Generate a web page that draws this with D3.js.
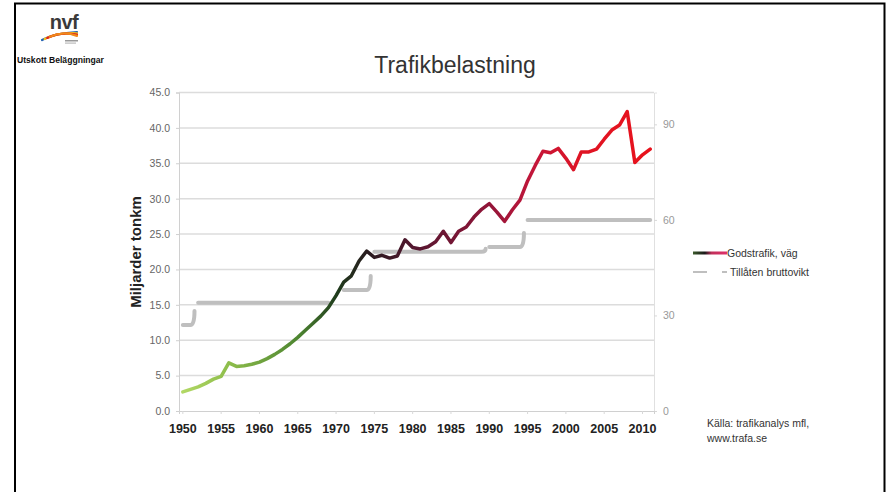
<!DOCTYPE html>
<html>
<head>
<meta charset="utf-8">
<script src="https://cdn.jsdelivr.net/npm/d3@7"></script>
<style>
  html, body { margin: 0; padding: 0; background: #fff; }
  svg { display: block; font-family: "Liberation Sans", Arial, sans-serif; }
</style>
</head>
<body>
<svg id="chart" width="887" height="492"></svg>
<script>
// ---------- data ----------
const years = [1950,1951,1952,1953,1954,1955,1956,1957,1958,1959,
               1960,1961,1962,1963,1964,1965,1966,1967,1968,1969,
               1970,1971,1972,1973,1974,1975,1976,1977,1978,1979,
               1980,1981,1982,1983,1984,1985,1986,1987,1988,1989,
               1990,1991,1992,1993,1994,1995,1996,1997,1998,1999,
               2000,2001,2002,2003,2004,2005,2006,2007,2008,2009,
               2010,2011];
// Godstrafik, väg (miljarder tonkm)
const goods = [2.7,3.05,3.4,3.9,4.5,4.9,6.8,6.3,6.4,6.6,
               6.9,7.4,8.0,8.7,9.5,10.4,11.4,12.4,13.4,14.6,
               16.3,18.2,19.1,21.2,22.6,21.7,22.0,21.6,21.9,24.2,
               23.1,22.9,23.2,23.9,25.4,23.8,25.4,26.0,27.4,28.5,
               29.3,28.1,26.8,28.4,29.8,32.5,34.7,36.7,36.5,37.1,
               35.7,34.1,36.6,36.6,37.0,38.4,39.7,40.4,42.3,35.1,
               36.2,37.0];
// Tillåten bruttovikt (right axis) – levels
const weightStart = [1950, 1952, 1971, 1975, 1990, 1995];
const weightEnd   = [1951, 1969, 1974, 1989, 1994, 2011];
const weightValue = [27, 34, 38, 50, 51.5, 60];

const leftTicks  = [0,5,10,15,20,25,30,35,40,45];
const rightTicks = [0,30,60,90];
const xLabelYears = [1950,1955,1960,1965,1970,1975,1980,1985,1990,1995,2000,2005,2010];

const title = "Trafikbelastning";
const yTitle = "Miljarder tonkm";
const legendLabels = ["Godstrafik, väg", "Tillåten bruttovikt"];
const sourceLines = ["Källa: trafikanalys mfl,", "www.trafa.se"];

// ---------- drawing ----------
const svg = d3.select("#chart");
svg.append("rect").attr("width", 887).attr("height", 492).attr("fill", "#fff");

const xb = d3.scaleBand().domain(years).range([179, 654]).paddingInner(0).paddingOuter(0);
const x = d => xb(d) + xb.bandwidth() / 2;
const y = d3.scaleLinear().domain([0, 45]).range([411, 92.5]);
const y2 = d3.scaleLinear().domain([0, 100]).range([411, 92.5]);

// frame
svg.append("path").attr("d", "M15,500 V3.5 H884.5 V500")
  .attr("fill", "none").attr("stroke", "#000").attr("stroke-width", 2);

// gridlines
svg.append("g").selectAll("line").data(leftTicks.slice(1)).join("line")
  .attr("x1", 179).attr("x2", 654)
  .attr("y1", d => y(d)).attr("y2", d => y(d))
  .attr("stroke", "#dcdcdc").attr("stroke-width", 1.5);

// left axis
const gl = svg.append("g").attr("transform", "translate(179,0)")
  .call(d3.axisLeft(y).tickValues(leftTicks).tickFormat(d3.format(".1f")).tickSize(3).tickPadding(6));
gl.select(".domain").attr("stroke", "#d0d0d0");
gl.selectAll(".tick line").attr("stroke", "#d0d0d0");
gl.selectAll("text").attr("fill", "#666").attr("font-size", 10.5);

// right axis
const gr = svg.append("g").attr("transform", "translate(654,0)")
  .call(d3.axisRight(y2).tickValues(rightTicks).tickSize(3).tickPadding(6));
gr.select(".domain").attr("stroke", "#e0e0e0");
gr.selectAll(".tick line").attr("stroke", "#d8d8d8");
gr.selectAll("text").attr("fill", "#999").attr("font-size", 10.5);

// bottom axis
const gb = svg.append("g").attr("transform", "translate(0,411)")
  .call(d3.axisBottom(xb).tickValues(xLabelYears).tickSize(3).tickPadding(10));
gb.select(".domain").attr("stroke", "#d0d0d0");
gb.selectAll(".tick line").attr("stroke", "#d8d8d8");
gb.selectAll("text").attr("fill", "#222").attr("font-size", 12.5).attr("font-weight", "bold");

// weight series (gray steps)
const gw = svg.append("g");
weightValue.forEach((v, i) => {
  const x0 = x(weightStart[i]), x1 = x(weightEnd[i]), yy = y2(v);
  let d = `M${x0},${yy} H${x1}`;
  if (i < weightValue.length - 1 && weightStart[i + 1] - weightEnd[i] === 1) {
    const step = yy - y2(weightValue[i + 1]);
    const h = Math.min(14, step * 0.65);
    d += ` Q${x1 + 4},${yy} ${x1 + 4},${yy - h}`;
  }
  gw.append("path").attr("d", d).attr("fill", "none")
    .attr("stroke", "#bfbfbf").attr("stroke-width", 4).attr("stroke-linecap", "round");
});

// gradient for goods line
const defs = svg.append("defs");
const grad = defs.append("linearGradient").attr("id", "gGoods")
  .attr("gradientUnits", "userSpaceOnUse")
  .attr("x1", x(years[0])).attr("x2", x(years[years.length - 1])).attr("y1", 0).attr("y2", 0);
[[0, "#b2d865"], [0.1, "#8dbd4b"], [0.25, "#4c8430"], [0.33, "#1f3b1c"],
 [0.4, "#2a1a1f"], [0.5, "#561730"], [0.65, "#8f1538"], [0.75, "#c3163a"],
 [0.85, "#df1424"], [1, "#e8121c"]].forEach(s =>
  grad.append("stop").attr("offset", s[0]).attr("stop-color", s[1]));

const line = d3.line().x((d, i) => x(years[i])).y(d => y(d)).curve(d3.curveLinear);
svg.append("path").datum(goods).attr("d", line)
  .attr("fill", "none").attr("stroke", "url(#gGoods)").attr("stroke-width", 3.5)
  .attr("stroke-linejoin", "round").attr("stroke-linecap", "round");

// y title
svg.append("text").attr("transform", "translate(141,252) rotate(-90)")
  .attr("text-anchor", "middle").attr("font-size", 15).attr("font-weight", "bold")
  .attr("fill", "#222").text(yTitle);

// title
svg.append("text").attr("x", 455).attr("y", 73).attr("text-anchor", "middle")
  .attr("font-size", 23).attr("fill", "#333").text(title);

// legend
const lg = defs.append("linearGradient").attr("id", "gLeg")
  .attr("gradientUnits", "userSpaceOnUse").attr("x1", 693).attr("x2", 727).attr("y1", 0).attr("y2", 0);
[[0, "#3a5a2a"], [0.35, "#1a1a1a"], [0.55, "#c0305a"], [1, "#e0306a"]].forEach(s =>
  lg.append("stop").attr("offset", s[0]).attr("stop-color", s[1]));
svg.append("line").attr("x1", 693).attr("x2", 727).attr("y1", 253).attr("y2", 253)
  .attr("stroke", "url(#gLeg)").attr("stroke-width", 3);
svg.append("text").attr("x", 727).attr("y", 256.5).attr("font-size", 10.5).attr("fill", "#333").text(legendLabels[0]);
svg.append("line").attr("x1", 693).attr("x2", 727).attr("y1", 272).attr("y2", 272)
  .attr("stroke", "#bfbfbf").attr("stroke-width", 2).attr("stroke-dasharray", "14,15");
svg.append("text").attr("x", 730).attr("y", 275.5).attr("font-size", 10.5).attr("fill", "#333").text(legendLabels[1]);

// source
svg.append("g").selectAll("text").data(sourceLines).join("text")
  .attr("x", 707).attr("y", (d, i) => 427 + i * 14.5)
  .attr("font-size", 10.5).attr("fill", "#333").text(d => d);

// logo
const logo = svg.append("g");
logo.append("text").attr("x", 64).attr("y", 29).attr("text-anchor", "middle")
  .attr("font-size", 20).attr("font-weight", "bold")
  .attr("fill", "#3a3a3a").attr("letter-spacing", -0.5).text("nvf");
[["#1f5fb0", 0], ["#f2c21a", 2.6], ["#e02020", 5.2], ["#f08a1a", 7.8]].forEach(s => {
  logo.append("path")
    .attr("d", `M${42 + s[1]},${40 - s[1] * 0.4} Q${55 + s[1]},${33 - s[1] * 0.3} ${77},${32 + s[1] * 0.5}`)
    .attr("fill", "none").attr("stroke", s[0]).attr("stroke-width", 2.2).attr("stroke-linecap", "round");
});
logo.append("rect").attr("x", 65).attr("y", 40).attr("width", 13).attr("height", 1.5).attr("fill", "#999");
logo.append("rect").attr("x", 65).attr("y", 42.5).attr("width", 11).attr("height", 1.2).attr("fill", "#bbb");
svg.append("text").attr("x", 17).attr("y", 63).attr("font-size", 8.6).attr("font-weight", "bold")
  .attr("fill", "#111").text("Utskott Beläggningar");
</script>
</body>
</html>
